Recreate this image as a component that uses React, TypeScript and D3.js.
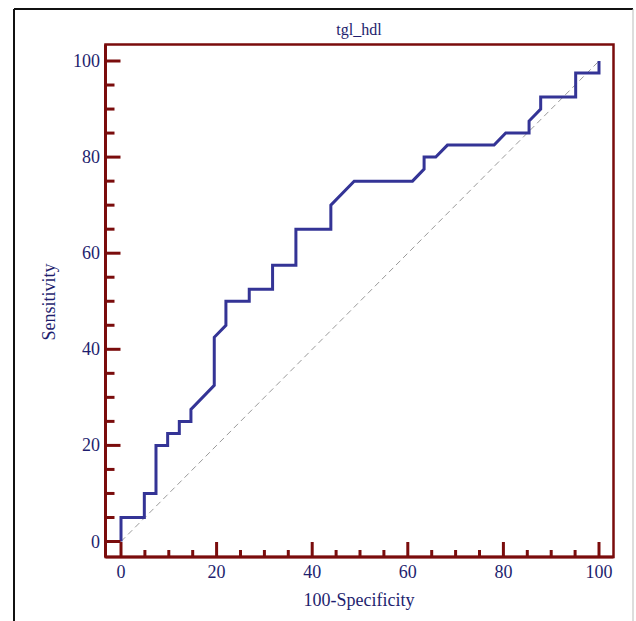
import React, { useEffect, useRef } from 'react';
import * as d3 from 'd3';

// ROC curve points (100-Specificity, Sensitivity)
const fpr = [0, 0, 4.88, 4.88, 7.32, 7.32, 9.76, 9.76, 12.2, 12.2, 14.63, 14.63, 19.51, 19.51, 21.95, 21.95,
  26.83, 26.83, 31.71, 31.71, 36.59, 36.59, 43.9, 43.9, 48.78, 60.98, 63.41, 63.41, 65.85, 68.29, 78.05,
  80.49, 85.37, 85.37, 87.8, 87.8, 95.12, 95.12, 100, 100];
const tpr = [0, 5, 5, 10, 10, 20, 20, 22.5, 22.5, 25, 25, 27.5, 32.5, 42.5, 45, 50, 50, 52.5, 52.5, 57.5,
  57.5, 65, 65, 70, 75, 75, 77.5, 80, 80, 82.5, 82.5, 85, 85, 87.5, 90, 92.5, 92.5, 97.5, 97.5, 100];
const majorTicks = [0, 20, 40, 60, 80, 100];
const minorTicks = d3.range(0, 101, 5).filter(v => v % 20 !== 0);
const title = 'tgl_hdl';
const xTitle = '100-Specificity';
const yTitle = 'Sensitivity';

const App = () => {
  const svgRef = useRef<SVGSVGElement>(null);

  useEffect(() => {
    const w = 636, h = 621;
    const svg = d3.select(svgRef.current);
    svg.selectAll('*').remove();

    const maroon = '#7a0c0c';
    const navy = '#1e1e6e';
    const font = '"Liberation Serif", "Times New Roman", serif';

    const x = d3.scaleLinear().domain([0, 100]).range([121, 599]);
    const y = d3.scaleLinear().domain([0, 100]).range([541.5, 61]);
    const box = { left: 105.5, right: 613.5, top: 44.5, bottom: 557 };

    // outer frame
    svg.append('rect').attr('width', w).attr('height', h).attr('fill', '#fff');
    svg.append('line').attr('x1', 14).attr('x2', 14).attr('y1', 9).attr('y2', h).attr('stroke', '#111').attr('stroke-width', 2);
    svg.append('line').attr('x1', 14).attr('x2', 633).attr('y1', 9).attr('y2', 9).attr('stroke', '#111').attr('stroke-width', 2);
    svg.append('line').attr('x1', 633).attr('x2', 633).attr('y1', 9).attr('y2', h).attr('stroke', '#bbb').attr('stroke-width', 1);

    // diagonal reference
    svg.append('line')
      .attr('x1', x(0)).attr('y1', y(0)).attr('x2', x(100)).attr('y2', y(100))
      .attr('stroke', '#9a9a9a').attr('stroke-width', 1).attr('stroke-dasharray', '6,4');

    // ROC curve
    const pts: [number, number][] = fpr.map((d, i) => [d, tpr[i]]);
    const line = d3.line<[number, number]>().x(d => x(d[0])).y(d => y(d[1]));
    svg.append('path').attr('d', line(pts)).attr('fill', 'none')
      .attr('stroke', '#343496').attr('stroke-width', 3).attr('stroke-linejoin', 'miter');

    // plot box
    svg.append('rect').attr('x', box.left).attr('y', box.top)
      .attr('width', box.right - box.left).attr('height', box.bottom - box.top)
      .attr('fill', 'none').attr('stroke', maroon).attr('stroke-width', 2.5);
    svg.append('line').attr('x1', box.left).attr('x2', box.left).attr('y1', box.top).attr('y2', box.bottom)
      .attr('stroke', maroon).attr('stroke-width', 3);
    svg.append('line').attr('x1', box.left).attr('x2', box.right).attr('y1', box.bottom).attr('y2', box.bottom)
      .attr('stroke', maroon).attr('stroke-width', 3);

    // ticks
    const g = svg.append('g').attr('stroke', maroon).attr('stroke-width', 3);
    majorTicks.forEach(v => {
      g.append('line').attr('x1', x(v)).attr('x2', x(v)).attr('y1', box.bottom).attr('y2', box.bottom - 15);
      g.append('line').attr('x1', box.left).attr('x2', box.left + 15).attr('y1', y(v)).attr('y2', y(v));
    });
    minorTicks.forEach(v => {
      g.append('line').attr('x1', x(v)).attr('x2', x(v)).attr('y1', box.bottom).attr('y2', box.bottom - 7);
      g.append('line').attr('x1', box.left).attr('x2', box.left + 9).attr('y1', y(v)).attr('y2', y(v));
    });

    // tick labels
    svg.append('g').selectAll('text').data(majorTicks).join('text')
      .attr('x', d => x(d)).attr('y', 578).attr('text-anchor', 'middle')
      .attr('font-family', font).attr('font-size', 18).attr('fill', navy).text(d => d);
    svg.append('g').selectAll('text').data(majorTicks).join('text')
      .attr('x', 100).attr('y', d => y(d) + 6).attr('text-anchor', 'end')
      .attr('font-family', font).attr('font-size', 18).attr('fill', navy).text(d => d);

    // titles
    svg.append('text').attr('x', 359).attr('y', 35).attr('text-anchor', 'middle')
      .attr('font-family', font).attr('font-size', 16).attr('fill', navy).text(title);
    svg.append('text').attr('x', 359).attr('y', 606).attr('text-anchor', 'middle')
      .attr('font-family', font).attr('font-size', 18).attr('fill', navy).text(xTitle);
    svg.append('text').attr('transform', 'translate(55,302) rotate(-90)').attr('text-anchor', 'middle')
      .attr('font-family', font).attr('font-size', 18).attr('fill', navy).text(yTitle);
  }, []);

  return (
    <svg ref={svgRef} width={636} height={621}
      style={{ position: 'absolute', left: 0, top: 0, display: 'block' }} />
  );
};

export default App;
